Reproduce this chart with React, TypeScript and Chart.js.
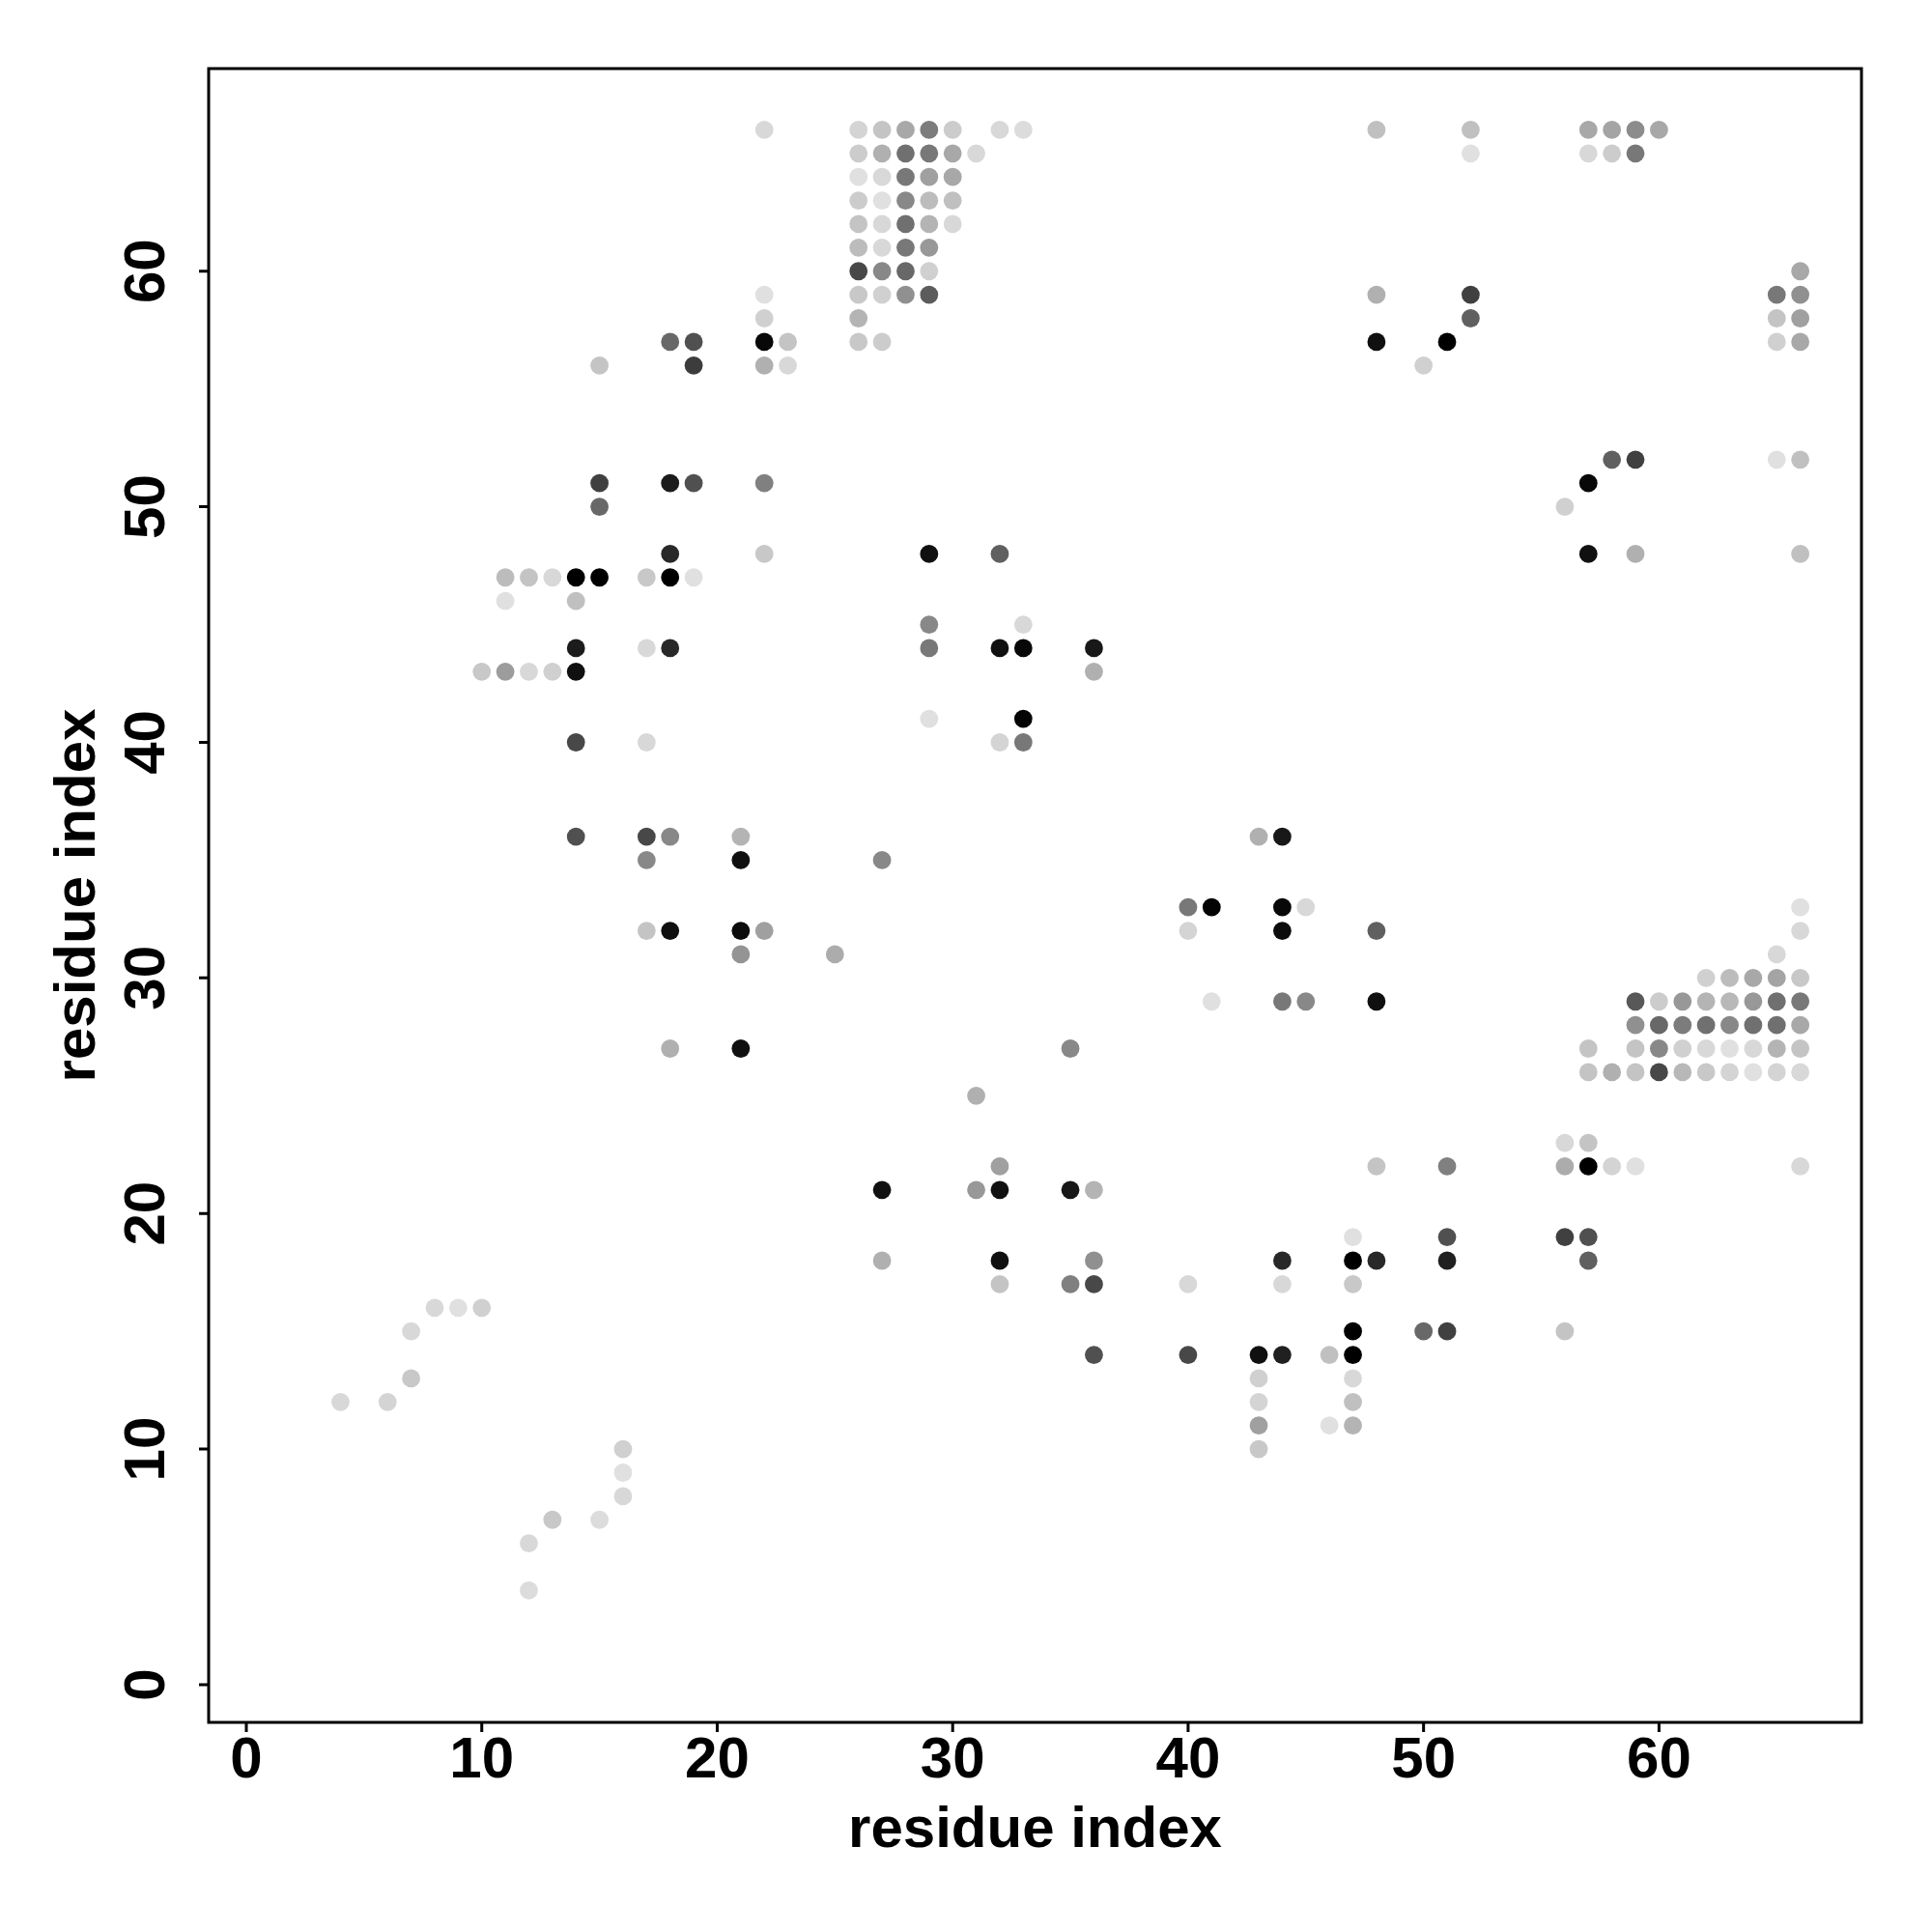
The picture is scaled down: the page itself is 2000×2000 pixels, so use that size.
import React, { useEffect, useRef } from "react";
import { Chart, registerables } from "chart.js";

Chart.register(...registerables);

// Axis limits (R-style 4% extension of 1..66)
const AXIS_MIN = -1.6;
const AXIS_MAX = 68.6;
const xTicks = [0, 10, 20, 30, 40, 50, 60];
const yTicks = [0, 10, 20, 30, 40, 50, 60];
const xTitle = "residue index";
const yTitle = "residue index";

// Contact rows: y residue index, then x residue indices and grey level (0 = black, 255 = white)
const rowY = [66, 65, 64, 63, 62, 61, 60, 59, 58, 57, 56, 52, 51, 50, 48, 47, 46, 45, 44, 43, 41, 40, 36, 35, 33, 32, 31, 30, 29, 28, 27, 26, 25, 23, 22, 21, 19, 18, 17, 16, 15, 14, 13, 12, 11, 10, 9, 8, 7, 6, 4];

const rowX = [
  [22, 26, 27, 28, 29, 30, 32, 33, 48, 52, 57, 58, 59, 60],
  [26, 27, 28, 29, 30, 31, 52, 57, 58, 59],
  [26, 27, 28, 29, 30],
  [26, 27, 28, 29, 30],
  [26, 27, 28, 29, 30],
  [26, 27, 28, 29],
  [26, 27, 28, 29, 66],
  [22, 26, 27, 28, 29, 48, 52, 65, 66],
  [22, 26, 52, 65, 66],
  [18, 19, 22, 23, 26, 27, 48, 51, 65, 66],
  [15, 19, 22, 23, 50],
  [58, 59, 65, 66],
  [15, 18, 19, 22, 57],
  [15, 56],
  [18, 22, 29, 32, 57, 59, 66],
  [11, 12, 13, 14, 15, 17, 18, 19],
  [11, 14],
  [29, 33],
  [14, 17, 18, 29, 32, 33, 36],
  [10, 11, 12, 13, 14, 36],
  [29, 33],
  [14, 17, 32, 33],
  [14, 17, 18, 21, 43, 44],
  [17, 21, 27],
  [40, 41, 44, 45, 66],
  [17, 18, 21, 22, 40, 44, 48, 66],
  [21, 25, 65],
  [62, 63, 64, 65, 66],
  [41, 44, 45, 48, 59, 60, 61, 62, 63, 64, 65, 66],
  [59, 60, 61, 62, 63, 64, 65, 66],
  [18, 21, 35, 57, 59, 60, 61, 62, 63, 64, 65, 66],
  [57, 58, 59, 60, 61, 62, 63, 64, 65, 66],
  [31],
  [56, 57],
  [32, 48, 51, 56, 57, 58, 59, 66],
  [27, 31, 32, 35, 36],
  [47, 51, 56, 57],
  [27, 32, 36, 44, 47, 48, 51, 57],
  [32, 35, 36, 40, 44, 47],
  [8, 9, 10],
  [7, 47, 50, 51, 56],
  [36, 40, 43, 44, 46, 47],
  [7, 43, 47],
  [4, 6, 43, 47],
  [43, 46, 47],
  [16, 43],
  [16],
  [16],
  [13, 15],
  [12],
  [12],
];

const rowShade = [
  [0xd8, 0xd4, 0xc4, 0xa8, 0x7c, 0xcc, 0xd8, 0xdc, 0xc0, 0xc0, 0xa8, 0xa4, 0x8c, 0xa8],
  [0xcc, 0xb0, 0x70, 0x78, 0xa8, 0xd8, 0xe0, 0xd8, 0xcc, 0x78],
  [0xe0, 0xd8, 0x78, 0xa0, 0xa8],
  [0xcc, 0xe0, 0x88, 0xbc, 0xc0],
  [0xc4, 0xd8, 0x70, 0xb4, 0xd8],
  [0xbc, 0xd8, 0x78, 0x98],
  [0x48, 0x88, 0x68, 0xd0, 0xa8],
  [0xe0, 0xc8, 0xd0, 0x90, 0x5c, 0xb0, 0x40, 0x78, 0x90],
  [0xd0, 0xb4, 0x60, 0xc4, 0xa0],
  [0x68, 0x50, 0x08, 0xc4, 0xc8, 0xcc, 0x10, 0x00, 0xd0, 0xa8],
  [0xc4, 0x3c, 0xb0, 0xd8, 0xd0],
  [0x60, 0x40, 0xe0, 0xc0],
  [0x40, 0x1c, 0x50, 0x80, 0x08],
  [0x68, 0xd0],
  [0x28, 0xc8, 0x10, 0x60, 0x10, 0xb0, 0xc0],
  [0xbc, 0xc4, 0xd8, 0x00, 0x00, 0xc8, 0x00, 0xe0],
  [0xe0, 0xc0],
  [0x88, 0xd8],
  [0x1c, 0xd8, 0x28, 0x78, 0x10, 0x08, 0x18],
  [0xc8, 0x9c, 0xd8, 0xd0, 0x10, 0xb0],
  [0xe0, 0x04],
  [0x48, 0xd8, 0xd4, 0x78],
  [0x50, 0x48, 0x88, 0xb4, 0xb0, 0x18],
  [0x88, 0x10, 0x88],
  [0x78, 0x04, 0x08, 0xd8, 0xe0],
  [0xc4, 0x10, 0x0c, 0xa0, 0xd4, 0x0c, 0x60, 0xd8],
  [0x94, 0xac, 0xd8],
  [0xd0, 0xbc, 0xa8, 0xa4, 0xc8],
  [0xe0, 0x78, 0x88, 0x10, 0x58, 0xcc, 0x98, 0xb4, 0xb8, 0x98, 0x70, 0x78],
  [0x90, 0x68, 0x7c, 0x70, 0x88, 0x70, 0x70, 0xa8],
  [0xb0, 0x10, 0x88, 0xc4, 0xc4, 0x88, 0xd0, 0xd8, 0xe0, 0xd8, 0xb4, 0xc4],
  [0xc4, 0xb0, 0xc4, 0x48, 0xb8, 0xc8, 0xd4, 0xe0, 0xd4, 0xd8],
  [0xb0],
  [0xd8, 0xc4],
  [0xa0, 0xc4, 0x80, 0xac, 0x00, 0xd4, 0xe0, 0xd8],
  [0x10, 0x98, 0x10, 0x18, 0xb4],
  [0xe0, 0x50, 0x40, 0x50],
  [0xb0, 0x10, 0x90, 0x28, 0x00, 0x28, 0x20, 0x60],
  [0xc4, 0x80, 0x48, 0xd8, 0xd8, 0xc8],
  [0xd8, 0xe0, 0xd0],
  [0xd8, 0x00, 0x68, 0x40, 0xc4],
  [0x50, 0x48, 0x10, 0x20, 0xc0, 0x00],
  [0xc8, 0xd0, 0xd8],
  [0xd8, 0xd4, 0xd4, 0xc0],
  [0xa0, 0xe0, 0xb4],
  [0xd0, 0xc8],
  [0xe0],
  [0xd8],
  [0xc8, 0xdc],
  [0xd8],
  [0xdc],
];

const FONT = 'bold 60px "Liberation Sans", Arial, Helvetica, sans-serif';

export default function App() {
  const ref = useRef<HTMLCanvasElement>(null);

  useEffect(() => {
    if (!ref.current) return;
    const points: { x: number; y: number }[] = [];
    const colors: string[] = [];
    rowY.forEach((y, r) => {
      rowX[r].forEach((x, k) => {
        const g = rowShade[r][k];
        points.push({ x, y });
        colors.push(`rgb(${g},${g},${g})`);
      });
    });

    const axesPlugin = {
      id: "rAxes",
      afterDraw(chart: any) {
        const { ctx, chartArea: a, scales } = chart;
        const xs = scales.x;
        const ys = scales.y;
        ctx.save();
        ctx.strokeStyle = "#000";
        ctx.lineWidth = 3;
        ctx.strokeRect(a.left, a.top, a.right - a.left, a.bottom - a.top);
        ctx.beginPath();
        xTicks.forEach((v) => {
          const px = xs.getPixelForValue(v);
          ctx.moveTo(px, a.bottom);
          ctx.lineTo(px, a.bottom + 10);
        });
        yTicks.forEach((v) => {
          const py = ys.getPixelForValue(v);
          ctx.moveTo(a.left, py);
          ctx.lineTo(a.left - 10, py);
        });
        ctx.stroke();

        ctx.fillStyle = "#000";
        ctx.font = FONT;
        ctx.textAlign = "center";
        ctx.textBaseline = "alphabetic";
        xTicks.forEach((v) => {
          ctx.fillText(String(v), xs.getPixelForValue(v), a.bottom + 57);
        });
        ctx.fillText(xTitle, (a.left + a.right) / 2, a.bottom + 129);

        yTicks.forEach((v) => {
          ctx.save();
          ctx.translate(a.left - 46, ys.getPixelForValue(v));
          ctx.rotate(-Math.PI / 2);
          ctx.fillText(String(v), 0, 0);
          ctx.restore();
        });
        ctx.save();
        ctx.translate(a.left - 118, (a.top + a.bottom) / 2);
        ctx.rotate(-Math.PI / 2);
        ctx.fillText(yTitle, 0, 0);
        ctx.restore();
        ctx.restore();
      },
    };

    const chart = new Chart(ref.current, {
      type: "scatter",
      data: {
        datasets: [
          {
            data: points,
            backgroundColor: colors,
            borderWidth: 0,
            pointRadius: 9.4,
            pointHoverRadius: 9.4,
          },
        ],
      },
      options: {
        responsive: false,
        animation: false,
        devicePixelRatio: 1,
        events: [],
        layout: { padding: { left: 216, top: 71, right: 73, bottom: 217 } },
        scales: {
          x: { type: "linear", min: AXIS_MIN, max: AXIS_MAX, display: false },
          y: { type: "linear", min: AXIS_MIN, max: AXIS_MAX, display: false },
        },
        plugins: {
          legend: { display: false },
          tooltip: { enabled: false },
        },
      },
      plugins: [axesPlugin],
    } as any);

    return () => chart.destroy();
  }, []);

  return (
    <canvas
      ref={ref}
      width={2000}
      height={2000}
      style={{ position: "absolute", left: 0, top: 0, width: 2000, height: 2000, display: "block" }}
    />
  );
}
